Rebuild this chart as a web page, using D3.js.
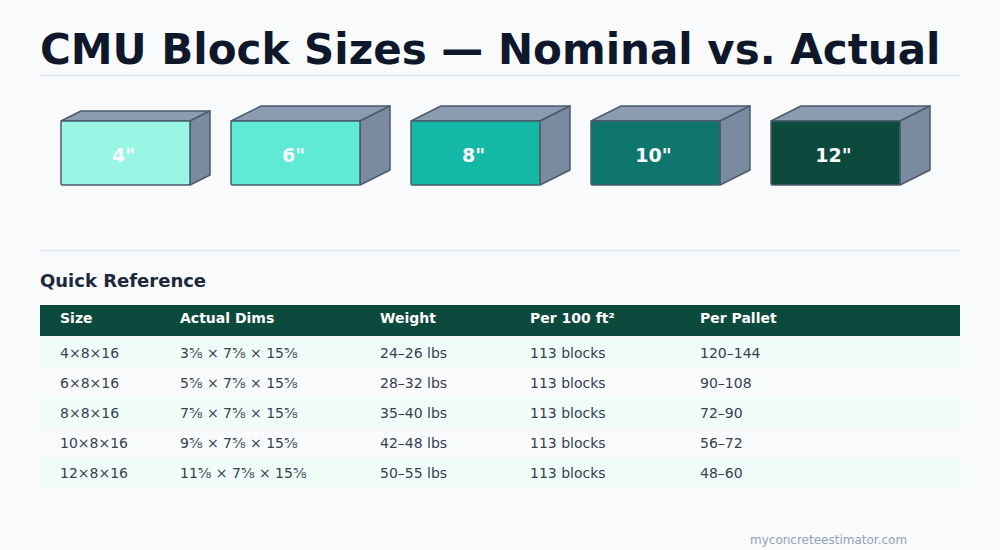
<!DOCTYPE html>
<html>
<head>
<meta charset="utf-8">
<script src="https://cdn.jsdelivr.net/npm/d3@7"></script>
<style>
  body { margin: 0; background: #f8fafc; }
  svg { display: block; font-family: "DejaVu Sans", sans-serif; }
</style>
</head>
<body>
<svg id="chart" width="1000" height="550"></svg>
<script>
	// block faces, one per nominal width (inches)
	var blockSizes = [4, 6, 8, 10, 12];
	var blockLabels = ['4"', '6"', '8"', '10"', '12"'];

	// quick reference table
	var columns = ["Size", "Actual Dims", "Weight", "Per 100 ft²", "Per Pallet"];
	var nominal = ["4×8×16", "6×8×16", "8×8×16", "10×8×16", "12×8×16"];
	var actualDims = ["3⅝ × 7⅝ × 15⅝", "5⅝ × 7⅝ × 15⅝", "7⅝ × 7⅝ × 15⅝", "9⅝ × 7⅝ × 15⅝", "11⅝ × 7⅝ × 15⅝"];
	var weights = ["24–26 lbs", "28–32 lbs", "35–40 lbs", "42–48 lbs", "50–55 lbs"];
	var per100 = ["113 blocks", "113 blocks", "113 blocks", "113 blocks", "113 blocks"];
	var perPallet = ["120–144", "90–108", "72–90", "56–72", "48–60"];

	var svg = d3.select("#chart");

	svg.append("text")
		.attr("x", 40).attr("y", 64)
		.attr("font-size", 42).attr("font-weight", "bold")
		.attr("fill", "#0f172a")
		.text("CMU Block Sizes — Nominal vs. Actual");

	svg.append("line")
		.attr("x1", 40).attr("x2", 960).attr("y1", 75.5).attr("y2", 75.5)
		.attr("stroke", "#e2e8f0").attr("stroke-width", 1.5);

	// ---- blocks ----
	var x = d3.scaleBand().domain(blockSizes).range([40, 940]);
	var depth = d3.scaleLinear().domain([4, 6]).range([20, 30]).clamp(true);
	var color = d3.scaleOrdinal().domain(blockSizes)
		.range(["#99f6e4", "#5eead4", "#14b8a6", "#0f766e", "#0b4a3c"]);
	var frontW = 129, frontH = 64, frontY = 121;

	var block = svg.append("g").selectAll("g")
		.data(blockSizes)
		.enter().append("g")
		.attr("transform", function(d) {
			return "translate(" + (x(d) + 170 - depth(d) - frontW) + "," + frontY + ")";
		});

	block.append("path")
		.attr("d", function(d) {
			var dx = depth(d), dy = dx / 2;
			return "M0,0L" + dx + "," + (-dy) + "L" + (frontW + dx) + "," + (-dy) + "L" + frontW + ",0Z";
		})
		.attr("fill", "#8b9bb0").attr("stroke", "#4b5b6e").attr("stroke-width", 1.5)
		.attr("stroke-linejoin", "round");

	block.append("path")
		.attr("d", function(d) {
			var dx = depth(d), dy = dx / 2;
			return "M" + frontW + ",0L" + (frontW + dx) + "," + (-dy) + "L" + (frontW + dx) + "," + (frontH - dy) + "L" + frontW + "," + frontH + "Z";
		})
		.attr("fill", "#7b8b9f").attr("stroke", "#4b5b6e").attr("stroke-width", 1.5)
		.attr("stroke-linejoin", "round");

	block.append("rect")
		.attr("width", frontW).attr("height", frontH)
		.attr("rx", 1.5)
		.attr("fill", function(d) { return color(d); })
		.attr("stroke", "#4b5b6e").attr("stroke-width", 1.5);

	block.append("text")
		.attr("x", frontW / 2 - 2).attr("y", frontH / 2 + 2)
		.attr("dy", ".35em")
		.attr("text-anchor", "middle")
		.attr("font-size", 19).attr("font-weight", "bold")
		.attr("fill", "#f8fafc")
		.text(function(d, i) { return blockLabels[i]; });

	svg.append("line")
		.attr("x1", 40).attr("x2", 960).attr("y1", 250.5).attr("y2", 250.5)
		.attr("stroke", "#e2e8f0").attr("stroke-width", 1.5);

	// ---- table ----
	svg.append("text")
		.attr("x", 40).attr("y", 287)
		.attr("font-size", 18).attr("font-weight", "bold")
		.attr("fill", "#1e293b")
		.text("Quick Reference");

	var colX = d3.scaleOrdinal().domain(columns).range([60, 180, 380, 530, 700]);
	var rowY = d3.scaleBand().domain(d3.range(nominal.length)).range([338, 488]);

	svg.append("rect")
		.attr("x", 40).attr("y", 305).attr("width", 920).attr("height", 31)
		.attr("fill", "#0b4a3c");

	svg.append("g").selectAll("text")
		.data(columns)
		.enter().append("text")
		.attr("x", function(d) { return colX(d); })
		.attr("y", 323)
		.attr("font-size", 14).attr("font-weight", "bold")
		.attr("fill", "#ffffff")
		.text(function(d) { return d; });

	var rows = nominal.map(function(d, i) {
		return [d, actualDims[i], weights[i], per100[i], perPallet[i]];
	});

	var row = svg.append("g").selectAll("g")
		.data(rows)
		.enter().append("g")
		.attr("transform", function(d, i) { return "translate(0," + rowY(i) + ")"; });

	row.append("rect")
		.attr("x", 40).attr("width", 920).attr("height", rowY.bandwidth())
		.attr("fill", function(d, i) { return i % 2 === 0 ? "#effcf8" : "#f8fafc"; });

	row.selectAll("text")
		.data(function(d) { return d; })
		.enter().append("text")
		.attr("x", function(d, j) { return colX(columns[j]); })
		.attr("y", rowY.bandwidth() / 2)
		.attr("dy", ".35em")
		.attr("font-size", 14)
		.attr("fill", "#374151")
		.text(function(d) { return d; });

	svg.append("text")
		.attr("x", 750).attr("y", 544)
		.attr("font-size", 12)
		.attr("fill", "#94a3b8")
		.text("myconcreteestimator.com");
</script>
</body>
</html>
